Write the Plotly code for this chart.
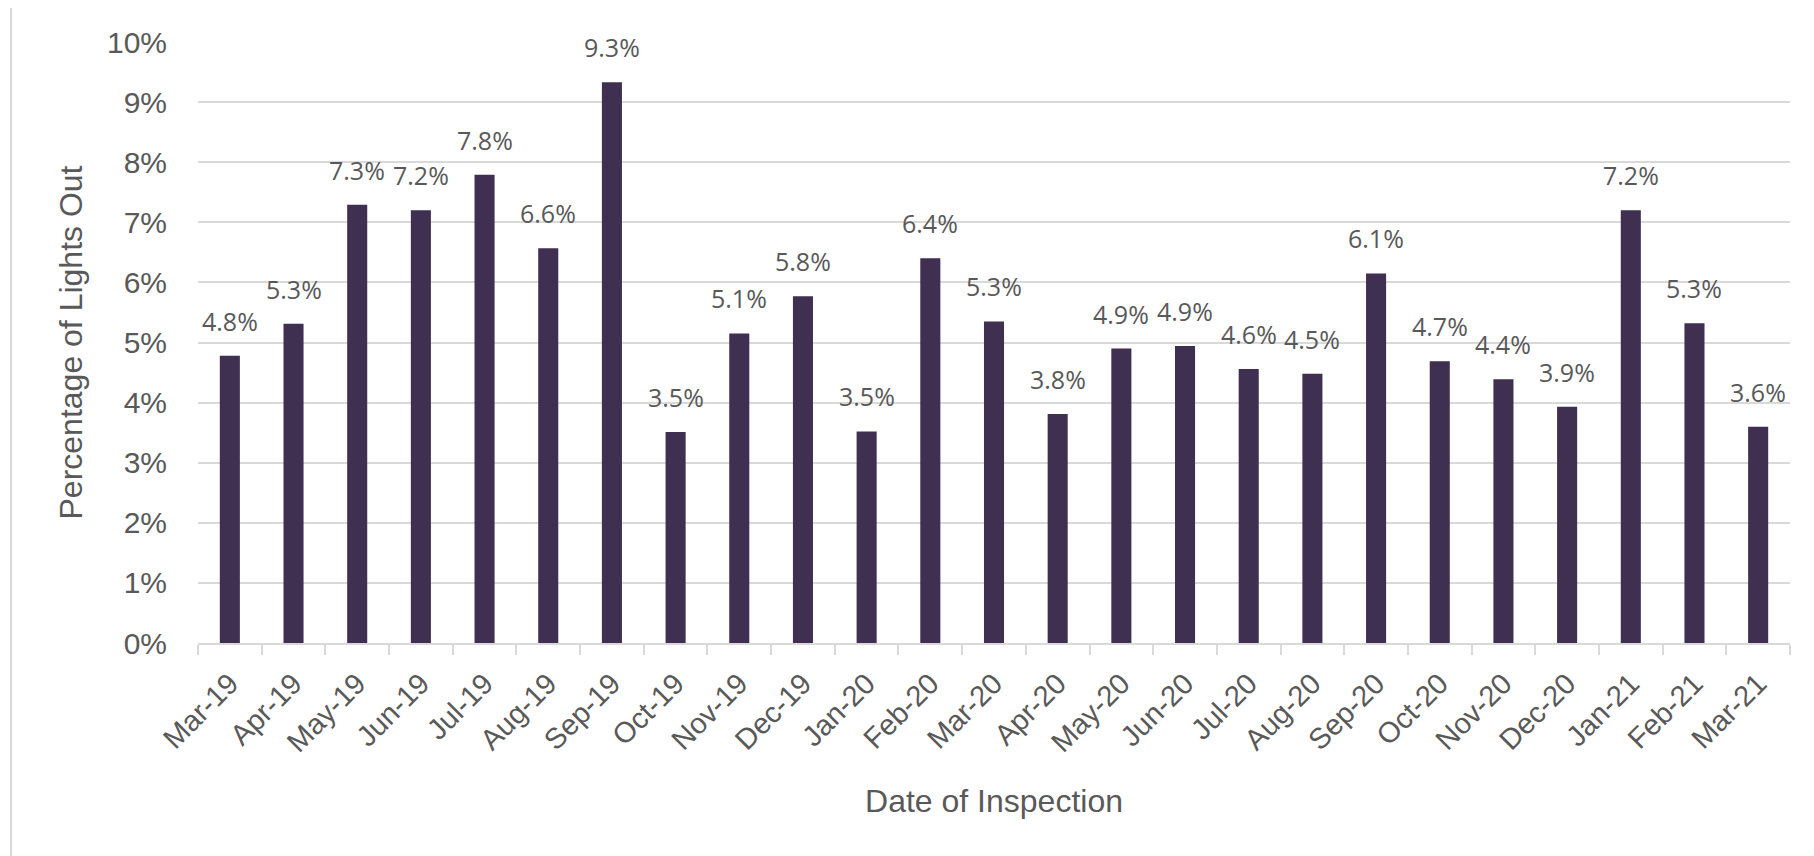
import plotly.graph_objects as go

months = ["Mar-19", "Apr-19", "May-19", "Jun-19", "Jul-19", "Aug-19", "Sep-19", "Oct-19",
          "Nov-19", "Dec-19", "Jan-20", "Feb-20", "Mar-20", "Apr-20", "May-20", "Jun-20",
          "Jul-20", "Aug-20", "Sep-20", "Oct-20", "Nov-20", "Dec-20", "Jan-21", "Feb-21", "Mar-21"]
pct_out = [0.0478, 0.0531, 0.0729, 0.0720, 0.0779, 0.0657, 0.0933, 0.0351,
           0.0515, 0.0577, 0.0352, 0.0640, 0.0535, 0.0381, 0.0490, 0.0494,
           0.0456, 0.0448, 0.0615, 0.0469, 0.0439, 0.0393, 0.0720, 0.0532, 0.0360]
labels = ["4.8%", "5.3%", "7.3%", "7.2%", "7.8%", "6.6%", "9.3%", "3.5%",
          "5.1%", "5.8%", "3.5%", "6.4%", "5.3%", "3.8%", "4.9%", "4.9%",
          "4.6%", "4.5%", "6.1%", "4.7%", "4.4%", "3.9%", "7.2%", "5.3%", "3.6%"]

# page body adds an 8px offset, so the figure is sized to fit the window
W, H = 1806, 848
ML, MR, MT, MB = 190, 24, 34, 213
PW, PH = W - ML - MR, H - MT - MB

BAR = "#3F2F51"
GRID = "#D9D9D9"
TXT = "#595959"

fig = go.Figure()
fig.add_trace(go.Bar(x=months, y=pct_out, marker=dict(color=BAR, line=dict(width=0)),
                     hoverinfo="x+y"))

for m, v, t in zip(months, pct_out, labels):
    fig.add_annotation(x=m, y=v, text=t, showarrow=False, yanchor="middle",
                       yshift=35, font=dict(family="Open Sans", size=25, color=TXT))

# thin frame line at the left edge of the chart area
fx = (3 - ML) / PW
fig.add_shape(type="line", xref="paper", yref="paper",
              x0=fx, x1=fx, y0=(MT + PH) / PH, y1=-(MB + 10) / PH,
              line=dict(color=GRID, width=2))

fig.update_layout(
    width=W, height=H,
    margin=dict(l=ML, r=MR, t=MT, b=MB, autoexpand=False),
    plot_bgcolor="white", paper_bgcolor="white",
    bargap=0.685, showlegend=False,
    font=dict(family="Liberation Sans, Arial", color=TXT),
)
fig.update_xaxes(
    type="category", tickangle=-45, tickfont=dict(size=29, color=TXT),
    ticklabelstandoff=10,
    showline=True, linecolor=GRID, linewidth=2,
    ticks="outside", tickson="boundaries", ticklen=10, tickcolor=GRID, tickwidth=2,
    showgrid=False, automargin=False,
    title=dict(text="Date of Inspection", font=dict(size=32, color=TXT), standoff=32),
)
fig.update_yaxes(
    range=[0, 0.10], dtick=0.01, tickformat=".0%",
    tickfont=dict(size=30, color=TXT), ticklabelstandoff=30,
    showgrid=True, gridcolor=GRID, gridwidth=2, zeroline=False, showline=False,
    automargin=False,
    title=dict(text="Percentage of Lights Out", font=dict(size=32, color=TXT), standoff=14),
)

fig.write_html("out.html")
